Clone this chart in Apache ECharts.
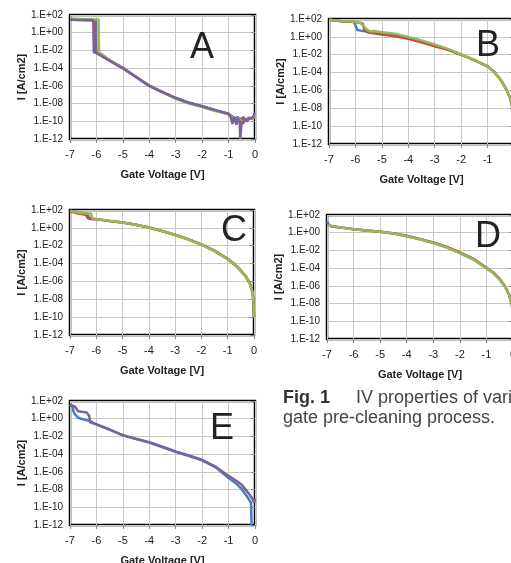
<!DOCTYPE html>
<html><head><meta charset="utf-8">
<script src="https://cdn.jsdelivr.net/npm/echarts@6/dist/echarts.min.js"></script>
<style>html,body{margin:0;padding:0;background:#fff}#c{width:511px;height:563px}</style>
</head><body><div id="c"></div>
<script>
// ---- data (voltage [V], current density [A/cm2]) ----
const panelLetters = ['A', 'B', 'C', 'D', 'E'];
const xTicks = [-7, -6, -5, -4, -3, -2, -1, 0];
const yTickExponents = [2, 0, -2, -4, -6, -8, -10, -12];

const A_blue = [[-7,35],[-6.6,30],[-6.2,28],[-6.02,26],[-6.0,6e-3],[-5.9,4e-3],[-5.5,7e-4],[-5,1e-4],[-4.5,1e-5],[-4,1.1e-6],[-3.5,2e-7],[-3,4.5e-8],[-2.5,1.3e-8],[-2,5e-9],[-1.5,1.8e-9],[-1,7e-10],[-0.85,3e-10],[-0.75,2e-10],[-0.65,3e-10],[-0.55,1.5e-10],[-0.45,3e-10],[-0.35,1.2e-10],[-0.25,2.5e-10],[-0.15,2e-10],[-0.05,3e-10],[0,4e-10]];
const A_red = [[-7,30],[-6.6,28],[-6.2,26],[-6.06,25],[-6.04,6e-3],[-5.9,4e-3],[-5.5,7e-4],[-5,1e-4],[-4.5,1e-5],[-4,1e-6],[-3.5,2e-7],[-3,4e-8],[-2.5,1.2e-8],[-2,4.5e-9],[-1.5,1.7e-9],[-1,6e-10],[-0.8,2.5e-10],[-0.6,2e-10],[-0.4,1.5e-10],[-0.2,2e-10],[0,3e-10]];
const A_green = [[-7,40],[-6.6,35],[-6.2,33],[-5.92,32],[-5.9,6e-3],[-5.8,4e-3],[-5.5,8e-4],[-5,1.1e-4],[-4.5,1.1e-5],[-4,1e-6],[-3.5,1.8e-7],[-3,3.5e-8],[-2.5,1e-8],[-2,4e-9],[-1.5,1.4e-9],[-1,6e-10],[-0.85,2.5e-10],[-0.7,1.5e-10],[-0.6,2e-10],[-0.5,8e-11],[-0.4,1e-10],[-0.3,1.3e-10],[-0.2,2e-10],[-0.1,2.5e-10],[0,3e-10]];
const A_purple = [[-7,30],[-6.6,28],[-6.2,27],[-6.12,25],[-6.1,6e-3],[-6.0,5e-3],[-5.5,7e-4],[-5,1e-4],[-4.5,1e-5],[-4,1e-6],[-3.5,2e-7],[-3,4e-8],[-2.5,1.2e-8],[-2,5e-9],[-1.5,1.8e-9],[-1,7e-10],[-0.92,3e-10],[-0.85,5e-11],[-0.8,3e-10],[-0.75,1.5e-10],[-0.7,4e-11],[-0.65,2e-10],[-0.58,1e-10],[-0.56,1e-12],[-0.52,1e-12],[-0.5,1e-10],[-0.45,5e-11],[-0.4,2e-10],[-0.3,1e-10],[-0.2,2.5e-10],[-0.1,2e-10],[0,1e-9]];

const B_blue = [[-7,80],[-6.5,55],[-6.05,45],[-6.0,30],[-5.93,6],[-5.8,5],[-5.6,4],[-5.4,3.3],[-5,2.6],[-4.5,1.6],[-4,0.8],[-3.5,0.33],[-3,0.12],[-2.5,0.04],[-2,1e-2],[-1.5,2.5e-3],[-1,5e-4],[-0.75,1.2e-4],[-0.5,1.5e-5],[-0.3,1.5e-6],[-0.15,1.5e-7],[-0.05,1e-8],[0,1e-9]];
const B_red = [[-7,80],[-6.5,55],[-6,45],[-5.8,35],[-5.72,30],[-5.66,6],[-5.5,3],[-5,1.8],[-4.5,1.2],[-4,0.6],[-3.5,0.25],[-3,0.09],[-2.5,0.035],[-2,1e-2],[-1.5,2.5e-3],[-1,5e-4],[-0.75,1.2e-4],[-0.5,1.5e-5],[-0.3,1.5e-6],[-0.15,1.5e-7],[-0.05,1e-8],[0,1e-9]];
const B_green = [[-7,85],[-6.5,60],[-6,50],[-5.8,35],[-5.65,12],[-5.55,6],[-5.45,4],[-5.38,6],[-5.3,4.5],[-5,3.3],[-4.5,2.2],[-4,1],[-3.5,0.4],[-3,0.14],[-2.5,0.045],[-2,1.1e-2],[-1.5,2.6e-3],[-1,5e-4],[-0.75,1.2e-4],[-0.5,1.5e-5],[-0.3,1.5e-6],[-0.15,1.5e-7],[-0.05,1e-8],[0,1e-9]];

const C_blue = [[-7,80],[-6.6,50],[-6.35,40],[-6.28,15],[-6.1,10],[-6,9.5],[-5.5,6],[-5,4],[-4.5,2.2],[-4,1.1],[-3.5,0.45],[-3,0.16],[-2.5,0.05],[-2,1.3e-2],[-1.5,2.5e-3],[-1,3e-4],[-0.75,8e-5],[-0.5,1.5e-5],[-0.3,3e-6],[-0.15,5e-7],[-0.05,5e-8],[-0.02,5e-9],[0,1e-10]];
const C_red = [[-7,70],[-6.7,40],[-6.4,30],[-6.32,12],[-6.2,10],[-6,9.5],[-5.5,6],[-5,4],[-4.5,2.2],[-4,1.1],[-3.5,0.45],[-3,0.17],[-2.5,0.055],[-2,1.4e-2],[-1.5,2.8e-3],[-1,3.5e-4],[-0.75,9e-5],[-0.5,1.7e-5],[-0.3,3.5e-6],[-0.15,6e-7],[-0.05,6e-8],[-0.02,5e-9],[0,1e-10]];
const C_green = [[-7,90],[-6.8,55],[-6.5,42],[-6.2,40],[-6.15,12],[-6,10],[-5.5,6.2],[-5,4],[-4.5,2.2],[-4,1.1],[-3.5,0.45],[-3,0.16],[-2.5,0.05],[-2,1.3e-2],[-1.5,2.5e-3],[-1,3e-4],[-0.75,8e-5],[-0.5,1.5e-5],[-0.3,3e-6],[-0.15,5e-7],[-0.05,5e-8],[-0.02,5e-9],[0,1e-10]];

const D_blue = [[-7,20],[-6.95,10],[-6.85,5],[-6.5,3.8],[-6,2.5],[-5.5,1.8],[-5,1.3],[-4.5,0.8],[-4,0.4],[-3.5,0.18],[-3,0.07],[-2.5,0.022],[-2,5e-3],[-1.5,1e-3],[-1,1e-4],[-0.75,3e-5],[-0.5,5e-6],[-0.3,8e-7],[-0.15,1e-7],[-0.05,1e-8],[0,8e-10]];
const D_red = [[-7,7],[-6.5,4],[-6,2.5],[-5.5,1.8],[-5,1.3],[-4.5,0.85],[-4,0.45],[-3.5,0.2],[-3,0.08],[-2.5,0.026],[-2,6e-3],[-1.5,1.2e-3],[-1,1.2e-4],[-0.75,3.5e-5],[-0.5,6e-6],[-0.3,9e-7],[-0.15,1.1e-7],[-0.05,1e-8],[0,8e-10]];
const D_green = [[-7,7],[-6.5,4],[-6,2.5],[-5.5,1.8],[-5,1.3],[-4.5,0.8],[-4,0.4],[-3.5,0.18],[-3,0.07],[-2.5,0.022],[-2,5e-3],[-1.5,1e-3],[-1,1e-4],[-0.75,3e-5],[-0.5,5e-6],[-0.3,8e-7],[-0.15,1e-7],[-0.05,1e-8],[0,8e-10]];

const E_blue = [[-7,40],[-6.9,20],[-6.87,7],[-6.81,3],[-6.69,1.3],[-6.5,0.85],[-6.24,0.55],[-6.1,0.3],[-6,0.23],[-5.5,0.06],[-5,1.3e-2],[-4.5,5e-3],[-4,2e-3],[-3.5,6e-4],[-3,1.8e-4],[-2.5,6e-5],[-2,2e-5],[-1.5,3.5e-6],[-1,2e-7],[-0.75,6e-8],[-0.5,1.1e-8],[-0.25,1e-9],[-0.15,3e-10],[-0.13,1e-12],[-0.1,1e-12]];
const E_purple = [[-7,40],[-6.81,23],[-6.69,7],[-6.56,6],[-6.37,5],[-6.27,2],[-6.24,0.4],[-6,0.23],[-5.5,0.06],[-5,1.4e-2],[-4.5,5.5e-3],[-4,2.2e-3],[-3.5,7e-4],[-3,2e-4],[-2.5,7e-5],[-2,2.3e-5],[-1.5,4e-6],[-1,3.5e-7],[-0.75,1.2e-7],[-0.5,3.4e-8],[-0.25,4e-9],[-0.1,1e-9],[-0.03,3e-10],[0,1e-9]];

// ---- layout / style ----
const COLORS = {blue:'#4a7ebb', red:'#be4b48', green:'#98b954', purple:'#7d60a0'};
const grids = [
  {left:70, top:15, width:185, height:124},
  {left:329, top:19, width:185, height:125},
  {left:70, top:210, width:184, height:125},
  {left:327, top:215, width:186, height:124},
  {left:70, top:401, width:185, height:124}
];
const panelSeries = [
  [['blue',A_blue],['red',A_red],['green',A_green],['purple',A_purple]],
  [['blue',B_blue],['red',B_red],['green',B_green]],
  [['blue',C_blue],['red',C_red],['green',C_green]],
  [['blue',D_blue],['red',D_red],['green',D_green]],
  [['blue',E_blue],['purple',E_purple]]
];
const letterPos = [[202,48],[488,46],[234,231],[488,237],[222,429]];

const FONT = 'Liberation Sans';
function fmtExp(v){
  const e = Math.round(Math.log10(v));
  return '1.E' + (e >= 0 ? '+' : '-') + String(Math.abs(e)).padStart(2,'0');
}

const xAxis = [], yAxis = [], series = [], graphic = [];
grids.forEach((g,i)=>{
  g.show = true; g.borderColor = '#000'; g.borderWidth = 2.5; g.backgroundColor = '#fff';
  g.containLabel = false; g.outerBoundsMode = 'none';
  xAxis.push({
    type:'value', gridIndex:i, min:xTicks[0], max:xTicks[xTicks.length-1], interval:1,
    name:'Gate Voltage [V]', nameLocation:'middle', nameGap:30,
    nameTextStyle:{fontFamily:FONT, fontSize:11, fontWeight:'bold', color:'#222'},
    axisLine:{show:false}, axisTick:{show:true, length:4, lineStyle:{color:'#888'}},
    axisLabel:{fontFamily:FONT, fontSize:11, color:'#222', margin:10},
    splitLine:{show:true, lineStyle:{color:'#c8c8c8', width:1}}
  });
  yAxis.push({
    type:'log', logBase:10, gridIndex:i, min:Math.pow(10,yTickExponents[yTickExponents.length-1]), max:Math.pow(10,yTickExponents[0]), interval:2,
    name:'I [A/cm2]', nameLocation:'middle', nameGap:42,
    nameTextStyle:{fontFamily:FONT, fontSize:11, fontWeight:'bold', color:'#222'},
    axisLine:{show:false}, axisTick:{show:true, length:4, lineStyle:{color:'#888'}},
    axisLabel:{fontFamily:FONT, fontSize:10, color:'#222', margin:7, formatter:fmtExp},
    splitLine:{show:true, lineStyle:{color:'#c8c8c8', width:1}}
  });
  panelSeries[i].forEach(([c,d])=>{
    series.push({type:'line', xAxisIndex:i, yAxisIndex:i, data:d, showSymbol:false, symbol:'none',
      lineStyle:{color:COLORS[c], width:2.5}, itemStyle:{color:COLORS[c]}, z:5});
  });
  graphic.push({type:'text', x:letterPos[i][0], y:letterPos[i][1], z:1,
    style:{text:panelLetters[i], font:'36px "Liberation Sans"', fill:'#222', align:'center', verticalAlign:'middle'}});
});
graphic.push({type:'text', left:283, top:389, style:{text:'Fig. 1', font:'bold 18px "Liberation Sans"', fill:'#333'}});
graphic.push({type:'text', left:356, top:389, style:{text:'IV properties of vari', font:'18px "Liberation Sans"', fill:'#444'}});
graphic.push({type:'text', left:283, top:409, style:{text:'gate pre-cleaning process.', font:'18px "Liberation Sans"', fill:'#444'}});

const chart = echarts.init(document.getElementById('c'), null, {renderer:'canvas'});
chart.setOption({animation:false, backgroundColor:'#fff', grid:grids, xAxis, yAxis, series, graphic});
</script></body></html>
